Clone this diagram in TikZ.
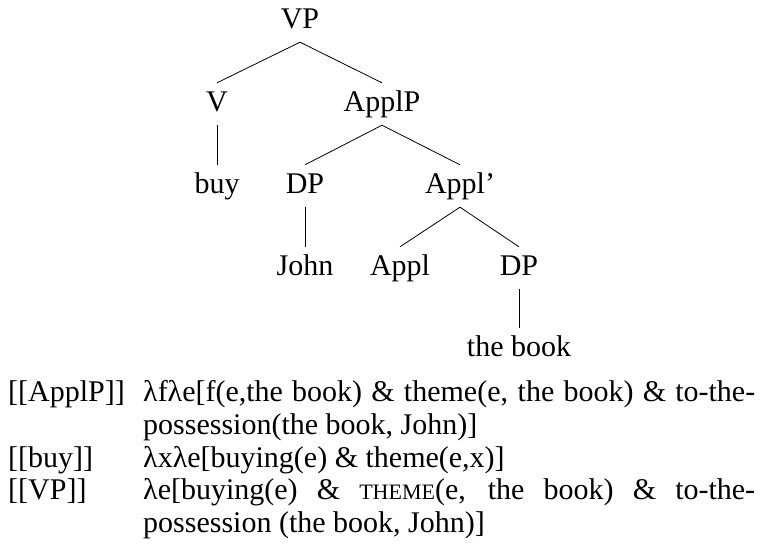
\documentclass[tikz,border=0pt]{standalone}
\usepackage{fontspec}
\setmainfont{Liberation Serif}
\newcommand{\fakesc}[1]{{\fontsize{22pt}{22pt}\selectfont #1}}
\tikzset{
  cat/.style={text height=20pt, text depth=6pt, inner xsep=2pt, inner ysep=8pt, anchor=base},
  branch/.style={line width=0.8pt},
  lbl/.style={anchor=base west, inner sep=0pt},
  sem/.style={anchor=base west, inner sep=0pt, text width=612pt, align=justify},
}
\begin{document}
\begin{tikzpicture}[x=1pt, y=-1pt, font=\fontsize{30pt}{33pt}\selectfont]
  \useasboundingbox (0,0) rectangle (767,550);
  % tree
  \node[cat] (vp)    at (300,28)  {VP};
  \node[cat] (v)     at (217,111) {V};
  \node[cat] (applp) at (382,111) {ApplP};
  \node[cat] (buy)   at (217,193) {buy};
  \node[cat] (dp)    at (305,193) {DP};
  \node[cat] (applbar) at (460,193) {Appl'};
  \node[cat] (john)  at (305,275) {John};
  \node[cat] (appl)  at (400,275) {Appl};
  \node[cat] (dpb)   at (519,275) {DP};
  \node[cat] (book)  at (519,356) {the book};
  % branches
  \draw[branch] (vp.south) -- (v.north);
  \draw[branch] (vp.south) -- (applp.north);
  \draw[branch] (v.south) -- (buy.north);
  \draw[branch] (applp.south) -- (dp.north);
  \draw[branch] (applp.south) -- (applbar.north);
  \draw[branch] (dp.south) -- (john.north);
  \draw[branch] (applbar.south) -- (appl.north);
  \draw[branch] (applbar.south) -- (dpb.north);
  \draw[branch] (dpb.south) -- (book.north);
  % denotations
  \node[lbl] (lapplp) at (8,401) {[[ApplP]]};
  \node[sem] (sapplp) at (143,401) {λfλe[f(e,the book) \& theme(e, the book) \& to-the-\linebreak possession(the book, John)]};
  \node[lbl] (lbuy) at (8,467) {[[buy]]};
  \node[sem] (sbuy) at (143,467) {λxλe[buying(e) \& theme(e,x)]};
  \node[lbl] (lvp) at (8,499) {[[VP]]};
  \node[sem] (svp) at (143,499) {λe[buying(e) \& \fakesc{THEME}(e, the book) \& to-the-\linebreak possession (the book, John)]};
\end{tikzpicture}
\end{document}
